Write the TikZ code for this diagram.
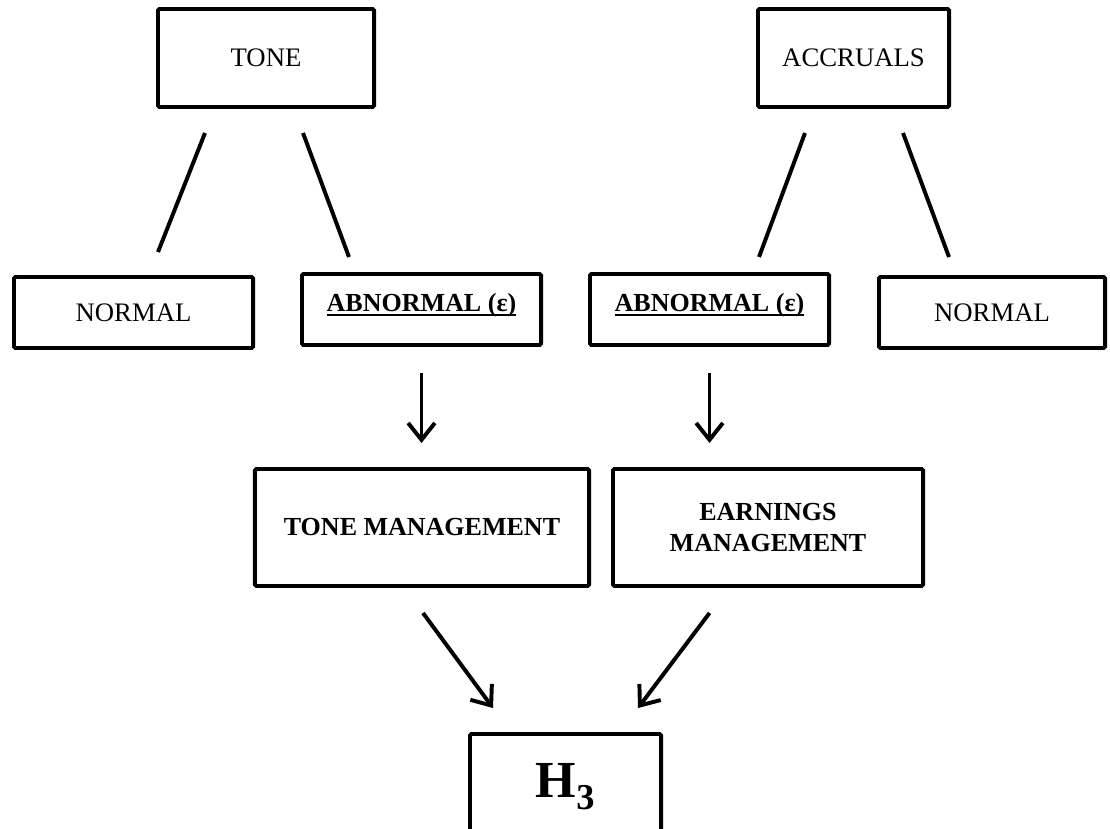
\documentclass[tikz,border=0pt]{standalone}
\usepackage{fontspec}
\setmainfont{Liberation Serif}
\usetikzlibrary{arrows.meta,calc}
\newcommand{\souligne}[1]{\setbox0\hbox{#1}\rlap{\rule[-3pt]{\wd0}{1.6pt}}\box0}

\begin{document}
\begin{tikzpicture}[x=0.025cm,y=-0.025cm,
    boite/.style={draw,line width=2.8pt,rounded corners=1pt,inner sep=0pt,align=center,font=\fontsize{19}{23}\selectfont},
    gras/.style={font=\fontsize{18.5}{22.5}\selectfont\bfseries},
    trait/.style={line width=2.8pt},
    fleche/.style={line width=2.8pt,-{Straight Barb[length=12pt,width=19pt]}}]
    \useasboundingbox (0,0) rectangle (1110,828);
    \clip (0,0) rectangle (1110,828);
    % Boîtes du haut
    \node[boite,minimum width=5.4cm,minimum height=2.45cm] (tone) at (266,58) {TONE};
    \node[boite,minimum width=4.775cm,minimum height=2.45cm] (accr) at (853.5,58) {ACCRUALS};
    % Deuxième rangée
    \node[boite,minimum width=5.975cm,minimum height=1.775cm] (normL) at (133.5,312.5) {NORMAL};
    \node[boite,gras,minimum width=5.975cm,minimum height=1.775cm,text height=12pt,text depth=9pt] (abnL) at (421.5,309.5) {\souligne{ABNORMAL (ε)}};
    \node[boite,gras,minimum width=5.975cm,minimum height=1.775cm,text height=12pt,text depth=9pt] (abnR) at (709.5,309.5) {\souligne{ABNORMAL (ε)}};
    \node[boite,minimum width=5.65cm,minimum height=1.775cm] (normR) at (992,312.5) {NORMAL};
    % Gestion
    \node[boite,gras,minimum width=8.35cm,minimum height=2.925cm] (tm) at (422,527.5) {TONE MANAGEMENT};
    \node[boite,gras,minimum width=7.75cm,minimum height=2.925cm] (em) at (768,527.5) {EARNINGS\\MANAGEMENT};
    % Hypothèse
    \node[boite,minimum width=4.775cm,minimum height=2.65cm,font=\fontsize{37}{40}\selectfont\bfseries] (h3) at (565.5,787) {H\textsubscript{3}};
    % Traits obliques
    \draw[trait] ($(tone.south west)+(49,24)$) -- ($(normL.north west)+(146,-23)$);
    \draw[trait] ($(tone.south west)+(147,24)$) -- ($(abnL.north west)+(49,-15)$);
    \draw[trait] ($(accr.south west)+(49,24)$) -- ($(abnR.north west)+(171,-15)$);
    \draw[trait] ($(accr.south west)+(147,24)$) -- ($(normR.north west)+(72,-18)$);
    % Flèches
    \draw[fleche] ($(abnL.south)+(0,26)$) -- ($(abnL.south |- tm.north)+(0,-24)$);
    \draw[fleche] ($(abnR.south)+(0,26)$) -- ($(abnR.south |- em.north)+(0,-24)$);
    \draw[fleche] ($(tm.south)+(1,25)$) -- ($(h3.north)+(-72.5,-24)$);
    \draw[fleche] ($(abnR.south |- em.south)+(0,25)$) -- ($(h3.north)+(72.5,-24)$);
\end{tikzpicture}
\end{document}
